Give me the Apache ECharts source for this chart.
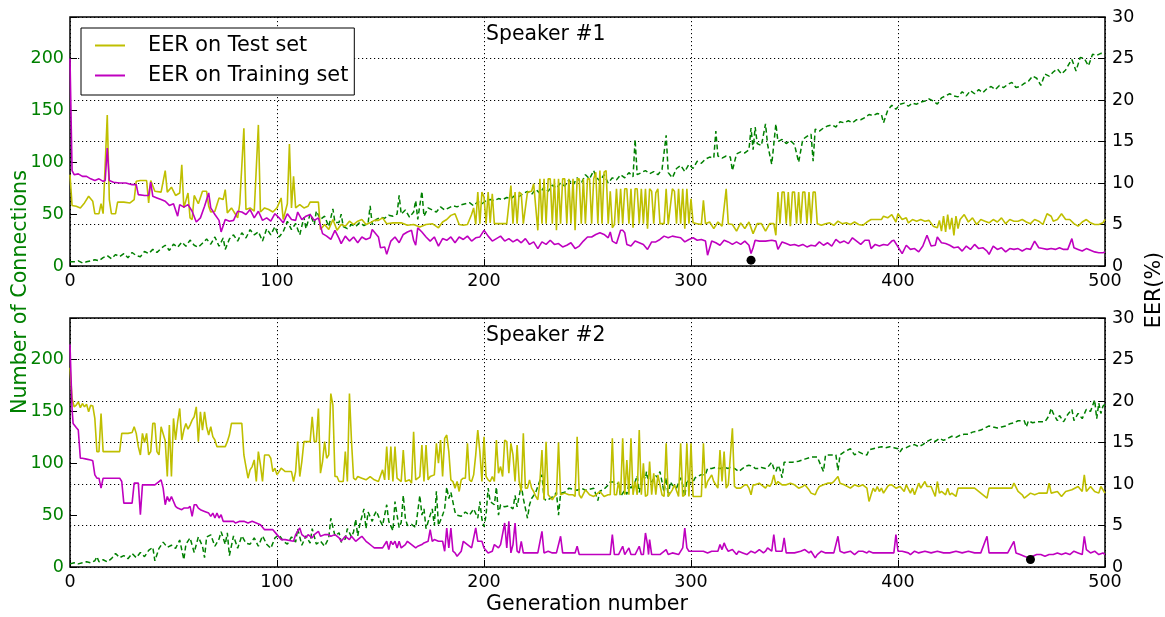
<!DOCTYPE html>
<html><head><meta charset="utf-8">
<script src="https://cdn.jsdelivr.net/npm/echarts@6/dist/echarts.min.js"></script>
<style>html,body{margin:0;padding:0;background:#fff}#c{width:1165px;height:617px}</style>
</head><body><div id="c"></div>
<script>
// ---- axis ticks ----
const xTicks = [0, 100, 200, 300, 400, 500];
const connTicks = [0, 50, 100, 150, 200];
const connMax = 240;
const eerTicks = [0, 5, 10, 15, 20, 25, 30];

// ---- Speaker #1 ----
const test1 = [[0,11.0],[1,7.3],[3,7.2],[5,7.0],[7,7.6],[9,8.4],[11,7.8],[12,6.3],[14,6.3],[15,7.5],[16,6.3],[18,18.2],[19,8.0],[20,6.3],[22,6.3],[23,7.7],[26,7.7],[29,7.6],[31,8.0],[32,10.2],[34,10.3],[37,10.3],[38,7.6],[39,10.3],[41,9.0],[44,8.9],[46,11.5],[47,8.9],[49,9.5],[51,8.5],[53,8.8],[54,12.2],[55,7.0],[57,8.8],[58,5.8],[59,5.6],[60,8.5],[62,7.5],[64,9.0],[66,9.0],[67,7.2],[68,6.5],[70,6.6],[72,8.2],[74,8.0],[75,9.2],[76,6.4],[78,7.0],[80,6.2],[81,5.8],[82,7.5],[84,16.6],[85,6.8],[87,7.0],[89,6.6],[91,17.0],[92,6.5],[94,7.0],[96,6.8],[98,6.5],[100,7.0],[102,8.2],[103,5.6],[105,7.5],[106,14.7],[107,7.0],[108,10.8],[109,7.0],[111,7.4],[113,7.0],[115,7.2],[116,7.7],[120,7.7],[121,4.4],[123,5.0],[125,4.4],[127,5.6],[129,4.3],[131,5.0],[133,4.8],[135,5.4],[137,5.0],[139,5.4],[141,5.6],[143,5.0],[145,5.2],[147,5.5],[149,5.5],[151,5.8],[153,5.1],[156,5.2],[160,5.2],[163,4.9],[166,5.0],[169,4.7],[172,5.0],[175,5.1],[178,4.6],[180,5.3],[182,5.6],[184,6.1],[186,6.3],[188,5.0],[190,4.9],[192,5.0],[194,6.2],[195,7.0],[196,5.0],[197,8.9],[198,5.1],[199,8.9],[200,8.3],[201,5.1],[202,8.9],[203,5.2],[204,8.7],[205,5.1],[207,5.1],[209,5.1],[211,5.1],[213,9.7],[214,5.1],[215,8.9],[216,5.1],[217,8.9],[218,8.7],[219,5.1],[221,8.9],[223,9.0],[224,9.9],[226,4.3],[227,10.5],[228,5.1],[229,10.5],[230,5.1],[231,10.5],[232,10.5],[233,5.1],[234,10.5],[235,4.3],[236,10.5],[237,5.1],[238,10.5],[239,10.5],[240,5.1],[241,10.5],[242,5.1],[243,10.5],[244,4.3],[245,10.5],[246,10.5],[247,5.1],[248,10.5],[249,5.1],[250,10.5],[251,10.5],[252,5.1],[253,10.5],[254,11.3],[255,5.1],[256,11.5],[257,5.1],[258,11.3],[259,11.5],[260,5.1],[261,9.0],[262,4.6],[263,5.0],[264,9.3],[265,5.1],[266,9.3],[267,5.1],[268,9.3],[269,9.3],[270,5.1],[271,9.3],[272,4.6],[273,9.3],[274,9.3],[275,5.1],[276,9.3],[277,5.1],[278,9.3],[279,4.5],[280,9.3],[281,9.0],[282,5.1],[283,8.8],[284,9.3],[285,5.1],[287,5.1],[288,9.3],[289,5.0],[291,9.3],[292,9.0],[293,5.1],[294,9.3],[295,5.1],[296,9.3],[297,4.5],[298,9.3],[299,5.1],[300,8.1],[301,5.2],[303,5.1],[305,5.0],[306,7.9],[307,5.1],[309,5.3],[311,4.5],[313,5.3],[315,4.8],[317,9.3],[318,5.1],[320,5.0],[322,4.2],[324,5.2],[326,4.5],[328,5.3],[330,3.9],[332,5.1],[334,5.1],[336,4.2],[338,5.1],[340,5.1],[341,3.7],[342,8.9],[343,5.1],[344,8.9],[345,8.9],[346,5.1],[347,8.9],[348,4.8],[349,8.9],[350,8.9],[351,5.1],[352,8.9],[353,5.1],[354,8.9],[355,8.9],[356,5.1],[357,8.9],[358,5.1],[359,8.9],[360,8.9],[361,5.1],[363,4.9],[365,5.1],[367,5.2],[369,4.9],[371,5.4],[373,5.1],[375,5.2],[377,5.0],[379,5.3],[381,5.0],[383,4.9],[385,5.3],[387,5.6],[390,5.6],[392,5.6],[393,6.0],[395,5.8],[397,6.2],[399,5.3],[400,6.3],[402,5.6],[404,5.8],[405,5.2],[407,5.6],[409,5.4],[411,5.6],[413,5.4],[415,5.5],[417,4.8],[419,4.6],[420,5.5],[421,4.2],[422,6.0],[423,4.1],[424,6.2],[425,4.4],[426,5.8],[427,3.7],[428,6.0],[429,4.5],[430,5.6],[432,6.2],[434,5.3],[436,5.8],[438,5.0],[440,5.6],[442,5.4],[444,5.2],[446,5.6],[448,5.3],[450,5.8],[452,5.1],[454,5.6],[456,5.4],[458,5.4],[460,5.6],[462,5.3],[464,5.1],[466,5.6],[468,5.4],[470,5.0],[472,6.3],[474,6.0],[475,5.4],[477,5.6],[479,6.3],[481,5.6],[483,5.6],[485,5.1],[487,4.8],[489,5.3],[491,5.6],[493,5.2],[495,5.0],[497,5.0],[499,5.2],[500,5.6]];

const train1 = [[0,25.0],[1,11.5],[2,11.0],[4,11.1],[6,10.8],[8,10.8],[10,10.5],[12,10.3],[14,10.5],[16,10.2],[17,10.3],[18,14.2],[19,10.3],[21,10.1],[24,10.0],[27,10.0],[30,9.8],[32,9.8],[33,8.6],[36,8.5],[38,8.5],[39,10.1],[40,8.4],[42,8.2],[44,8.0],[46,7.8],[48,7.3],[50,7.5],[52,6.0],[53,7.4],[55,7.1],[57,7.4],[59,6.6],[61,5.3],[63,5.8],[65,7.2],[67,8.8],[68,7.0],[70,6.2],[72,5.5],[73,4.1],[75,5.6],[77,5.4],[79,5.5],[81,6.6],[83,6.5],[85,6.2],[87,6.8],[89,5.8],[91,6.6],[93,5.5],[95,5.8],[97,5.4],[99,6.3],[101,5.8],[103,5.2],[105,6.3],[107,5.6],[109,5.5],[110,6.5],[112,5.6],[114,6.0],[116,6.2],[118,5.5],[120,5.8],[122,3.9],[124,3.6],[126,3.2],[128,4.3],[130,3.3],[131,2.7],[133,3.6],[135,3.0],[137,3.5],[139,2.8],[141,3.5],[143,3.2],[145,3.4],[146,4.4],[148,3.8],[149,3.5],[150,2.2],[152,2.3],[153,1.4],[155,3.0],[157,3.5],[159,2.8],[160,3.3],[161,3.8],[163,4.1],[165,4.3],[166,3.1],[167,2.5],[168,4.6],[170,4.1],[172,3.5],[174,3.0],[176,3.5],[178,2.4],[180,3.3],[182,3.1],[184,3.5],[186,2.8],[188,3.5],[190,3.2],[192,3.6],[194,3.0],[196,3.4],[198,3.5],[200,4.3],[202,3.6],[204,3.0],[206,3.3],[208,3.6],[210,3.0],[212,3.3],[214,2.9],[216,3.2],[218,2.8],[220,3.3],[222,2.6],[224,2.9],[226,2.1],[228,2.9],[230,2.6],[232,3.1],[234,2.6],[236,2.7],[238,2.3],[240,2.5],[242,2.8],[244,2.1],[246,2.4],[248,3.0],[250,3.5],[252,3.5],[254,3.8],[256,4.0],[258,3.8],[260,3.4],[261,4.1],[262,3.0],[264,2.7],[266,4.3],[267,4.3],[268,4.0],[269,2.6],[271,2.4],[273,3.0],[275,2.8],[277,2.6],[279,2.0],[281,2.9],[283,2.9],[285,3.2],[287,3.6],[289,3.4],[291,3.6],[293,3.5],[295,3.4],[297,2.9],[299,3.2],[301,3.4],[303,3.1],[305,3.2],[307,3.0],[308,1.3],[310,3.0],[312,2.8],[314,2.5],[316,3.1],[318,2.9],[320,2.6],[322,2.9],[324,2.6],[326,3.0],[328,2.5],[329,1.5],[330,2.2],[331,3.1],[333,3.0],[336,3.0],[339,3.1],[341,3.0],[342,2.0],[344,2.9],[346,2.7],[348,2.5],[350,2.6],[352,2.4],[354,2.6],[356,2.3],[358,2.5],[360,2.4],[362,2.9],[364,2.5],[366,2.8],[368,2.4],[370,3.2],[372,2.8],[374,3.0],[376,2.7],[378,3.4],[380,3.0],[382,2.6],[384,3.1],[386,3.1],[387,2.1],[389,2.6],[391,2.4],[393,2.6],[395,2.5],[397,3.0],[398,3.1],[400,2.3],[402,1.5],[404,2.5],[406,2.0],[408,2.1],[410,1.7],[412,2.4],[414,3.7],[416,2.4],[418,2.5],[419,3.5],[421,2.8],[423,2.7],[425,2.5],[427,2.2],[429,2.3],[431,1.8],[433,2.4],[435,2.0],[437,2.6],[439,2.1],[441,2.2],[443,1.8],[444,1.4],[446,2.4],[448,2.0],[450,2.2],[452,1.7],[454,2.1],[456,2.0],[458,2.1],[460,1.8],[462,2.1],[464,2.0],[466,3.0],[468,2.2],[470,2.1],[472,2.0],[474,2.1],[476,2.0],[478,2.2],[480,2.0],[482,2.0],[484,3.3],[485,2.2],[487,2.0],[489,1.8],[491,2.1],[493,1.9],[495,1.7],[497,1.6],[499,1.6],[500,1.7]];

const conn1 = [[0,4],[2,4],[4,5],[6,3],[8,4],[10,5],[12,6],[14,5],[16,8],[18,10],[20,7],[22,11],[24,9],[26,12],[28,8],[30,13],[32,10],[34,9],[36,14],[38,12],[40,16],[42,13],[44,17],[46,20],[48,15],[50,21],[52,18],[54,23],[56,19],[58,25],[60,20],[62,18],[64,22],[66,26],[68,21],[70,28],[72,19],[74,27],[75,16],[77,26],[79,30],[81,24],[83,32],[85,27],[87,35],[89,30],[91,33],[93,24],[95,36],[97,30],[99,38],[101,28],[103,33],[105,43],[107,35],[109,41],[111,30],[113,47],[114,36],[116,50],[118,40],[119,53],[121,45],[123,48],[125,38],[127,55],[128,42],[130,42],[131,50],[132,38],[134,36],[136,40],[138,38],[140,42],[142,39],[144,41],[145,58],[146,40],[148,45],[150,47],[152,46],[154,49],[156,48],[158,50],[159,68],[160,50],[162,54],[164,47],[166,52],[167,63],[168,45],[170,72],[171,48],[173,56],[175,54],[177,52],[179,57],[181,54],[183,56],[185,58],[187,57],[189,59],[191,60],[193,61],[195,58],[197,62],[199,60],[201,63],[203,64],[205,63],[207,65],[209,64],[211,66],[213,65],[215,68],[217,67],[219,70],[221,72],[223,69],[225,74],[227,70],[229,76],[231,72],[233,78],[235,75],[237,80],[239,77],[241,83],[243,78],[245,85],[247,80],[249,88],[251,84],[253,92],[254,86],[256,82],[258,88],[260,80],[262,85],[264,83],[266,88],[268,85],[270,90],[272,86],[273,122],[274,88],[276,90],[278,92],[280,89],[282,91],[284,88],[286,93],[288,126],[289,90],[291,85],[293,94],[295,97],[297,91],[299,98],[301,94],[303,101],[305,99],[307,103],[309,105],[311,104],[312,130],[313,106],[315,104],[317,106],[319,105],[320,92],[322,108],[324,110],[326,109],[328,112],[329,133],[330,112],[331,134],[332,118],[334,116],[336,137],[337,117],[339,98],[341,137],[342,120],[344,122],[346,118],[348,121],[350,117],[352,100],[354,122],[356,125],[358,127],[359,101],[360,132],[362,130],[364,133],[366,135],[368,136],[370,134],[372,139],[374,138],[376,140],[378,138],[380,141],[382,141],[384,143],[386,146],[388,145],[390,147],[392,146],[393,138],[395,150],[397,155],[399,151],[401,156],[403,157],[405,154],[407,157],[409,156],[411,158],[413,159],[415,161],[417,159],[419,156],[421,162],[423,164],[425,166],[427,164],[429,163],[431,168],[433,164],[435,169],[437,166],[439,170],[441,167],[443,171],[445,173],[447,170],[449,174],[451,172],[453,175],[455,177],[457,172],[459,173],[461,176],[463,178],[465,183],[467,181],[469,174],[471,185],[473,183],[475,187],[477,190],[479,185],[481,189],[483,196],[484,199],[486,188],[488,201],[490,200],[492,193],[494,204],[496,203],[498,205],[500,204]];

const best1 = [[329, 0.7]];

// ---- Speaker #2 ----
const test2 = [[0,24.0],[1,20.3],[2,19.3],[3,19.5],[4,19.9],[5,19.2],[6,19.7],[7,19.3],[8,19.6],[9,18.7],[10,19.5],[11,19.4],[12,17.9],[13,13.9],[14,13.9],[15,18.5],[16,13.9],[18,13.9],[20,13.9],[22,13.9],[24,13.9],[25,16.1],[28,16.1],[30,16.2],[31,16.9],[32,16.1],[33,14.5],[34,13.5],[35,16.1],[36,15.0],[37,16.1],[38,13.5],[39,13.9],[40,17.3],[41,17.3],[42,13.9],[43,13.5],[44,16.9],[46,15.2],[47,10.9],[48,17.1],[49,10.9],[50,17.9],[51,15.3],[52,17.5],[53,19.1],[54,15.3],[55,16.5],[56,17.3],[57,16.6],[58,17.1],[59,17.7],[60,18.1],[61,19.3],[62,15.1],[63,18.7],[64,16.5],[65,18.7],[66,16.9],[67,15.9],[68,16.9],[69,15.7],[70,15.3],[71,14.5],[73,14.5],[75,14.5],[76,15.1],[77,15.9],[78,17.3],[80,17.3],[82,17.3],[83,17.3],[84,13.5],[85,12.1],[86,10.7],[87,11.7],[88,12.1],[89,12.9],[90,10.3],[91,13.9],[92,12.3],[93,10.3],[94,13.5],[96,13.5],[97,13.1],[98,11.5],[99,11.9],[100,11.1],[101,11.5],[102,11.9],[104,11.5],[106,11.5],[107,11.5],[108,10.3],[109,11.5],[110,15.1],[111,10.9],[112,12.7],[113,15.1],[114,15.1],[116,15.1],[117,18.1],[118,15.1],[119,15.1],[120,19.1],[121,11.3],[122,12.7],[123,15.1],[124,13.1],[125,13.5],[126,20.9],[127,19.5],[128,10.9],[129,10.9],[130,10.3],[131,10.3],[132,10.3],[133,13.9],[134,10.3],[135,20.9],[136,15.1],[137,10.7],[138,10.5],[139,10.9],[141,10.7],[143,10.5],[145,10.9],[147,10.5],[149,10.3],[151,11.7],[152,10.5],[153,14.5],[154,10.5],[155,14.5],[156,10.3],[157,14.5],[158,10.7],[160,10.3],[161,14.1],[162,10.3],[164,10.5],[165,10.1],[166,16.3],[167,10.5],[169,10.9],[170,14.7],[171,10.3],[172,14.7],[173,10.5],[174,10.9],[176,11.1],[177,14.9],[178,12.5],[179,15.3],[180,10.9],[181,15.5],[182,15.9],[183,13.9],[184,10.5],[185,10.3],[186,9.5],[187,10.3],[188,9.1],[189,10.5],[190,10.7],[191,10.7],[192,14.9],[193,10.5],[194,10.3],[195,11.1],[196,13.5],[196.5,15.1],[197,16.5],[198,13.9],[199,10.3],[200,15.7],[201,10.9],[202,10.5],[203,10.3],[204,10.9],[205,10.3],[206,15.3],[207,11.3],[208,12.1],[209,10.9],[210,15.3],[211,15.1],[212,11.3],[213,14.9],[214,13.5],[215,10.3],[216,14.7],[217,10.3],[218,9.1],[219,16.1],[220,9.5],[221,9.5],[222,10.5],[223,9.5],[224,9.1],[225,8.5],[226,8.1],[227,10.3],[228,14.1],[229,8.1],[230,15.1],[231,8.7],[233,8.1],[234,8.5],[235,8.7],[236,15.0],[237,8.7],[239,8.9],[241,8.7],[243,8.7],[244,8.5],[245,15.7],[246,8.7],[247,8.3],[249,9.3],[251,8.7],[253,8.5],[254,8.7],[256,9.1],[258,8.5],[260,8.7],[261,8.7],[262,15.5],[263,8.7],[264,8.7],[265,10.3],[266,8.7],[267,15.5],[268,8.7],[269,12.9],[270,8.7],[271,15.5],[272,8.7],[273,10.3],[274,8.7],[275,16.5],[276,8.7],[277,12.5],[278,8.5],[279,8.7],[280,12.7],[281,8.7],[282,11.3],[283,8.7],[284,11.1],[285,9.9],[286,8.7],[287,8.5],[288,14.9],[289,8.5],[291,9.3],[292,9.9],[294,8.5],[295,14.9],[296,8.5],[297,8.7],[298,14.9],[299,8.5],[300,14.9],[301,8.5],[303,8.5],[305,8.5],[306,14.9],[307,9.5],[308,10.3],[310,11.1],[311,10.3],[313,9.5],[314,14.1],[315,10.3],[316,13.9],[317,9.5],[318,9.9],[320,16.7],[321,9.7],[322,9.5],[324,9.5],[326,9.9],[327,9.9],[328,9.5],[329,8.7],[330,9.9],[331,9.9],[333,10.1],[334,9.9],[336,9.5],[337,9.9],[338,9.7],[339,10.1],[340,11.1],[341,9.9],[342,10.3],[344,9.9],[346,9.9],[348,10.1],[350,9.9],[352,9.5],[354,9.7],[355,9.9],[357,9.3],[358,8.9],[360,8.7],[361,9.3],[362,9.7],[364,9.9],[366,10.1],[368,10.1],[369,10.3],[371,10.9],[372,10.1],[374,9.9],[377,9.5],[379,9.9],[381,9.7],[383,9.9],[385,9.5],[386,7.9],[387,8.7],[388,9.5],[389,9.1],[390,9.7],[391,9.1],[392,9.5],[393,8.9],[395,9.7],[396,9.9],[397,9.9],[399,9.5],[401,9.7],[403,9.1],[404,9.9],[406,8.9],[407,9.5],[408,8.7],[410,10.1],[411,9.5],[412,9.9],[413,10.3],[414,9.7],[416,9.7],[418,8.5],[419,10.3],[420,8.9],[421,9.1],[423,8.7],[424,9.5],[425,8.7],[426,8.9],[428,8.5],[429,9.5],[431,9.5],[433,9.5],[435,9.5],[437,9.5],[443,8.3],[444,9.5],[447,9.5],[450,9.5],[455,9.5],[456,10.1],[458,9.1],[460,8.7],[461,8.3],[463,8.7],[464,8.9],[466,8.7],[468,8.9],[470,8.9],[472,8.9],[473,10.1],[474,8.9],[477,9.1],[479,8.5],[481,9.1],[484,9.3],[487,9.7],[489,9.1],[490,11.1],[491,9.1],[493,9.7],[495,9.1],[497,8.9],[498,9.7],[500,8.9]];

const train2 = [[0,26.8],[1,19.0],[1.5,17.3],[2,17.1],[3,16.8],[4,16.5],[5,13.1],[6,13.1],[8,13.0],[10,12.9],[11,12.8],[12,11.1],[13,10.7],[14,10.7],[15,9.5],[16,10.7],[18,10.7],[20,10.7],[22,10.7],[24,10.7],[25,10.3],[26,7.7],[28,7.7],[30,7.7],[31,10.1],[32,10.1],[33,10.1],[34,6.3],[35,9.9],[37,9.9],[39,9.9],[41,9.9],[43,10.3],[44,10.5],[45,9.5],[46,7.5],[47,8.5],[48,7.9],[49,8.5],[51,7.3],[52,7.1],[54,6.9],[55,7.1],[57,7.1],[58,7.3],[59,6.1],[60,7.5],[61,7.5],[62,7.1],[63,6.9],[65,6.7],[67,6.5],[68,6.1],[69,6.5],[70,5.9],[71,6.5],[72,5.9],[73,6.3],[74,5.5],[77,5.5],[79,5.5],[80,5.3],[82,5.5],[84,5.5],[86,5.3],[88,5.5],[90,5.3],[92,5.1],[94,4.5],[96,4.5],[98,4.5],[100,3.9],[102,3.3],[104,3.3],[106,3.2],[108,3.1],[109,3.9],[111,4.7],[112,3.9],[114,3.5],[115,3.9],[117,3.5],[118,3.9],[120,4.3],[121,3.7],[123,3.9],[125,3.9],[126,3.7],[128,3.9],[130,3.5],[131,3.1],[133,3.7],[135,3.3],[136,3.7],[138,3.1],[140,3.5],[141,3.7],[143,3.1],[144,2.9],[146,2.5],[147,2.3],[149,2.3],[151,2.3],[153,3.1],[154,2.1],[155,3.1],[156,2.7],[157,3.1],[158,2.3],[159,3.1],[160,2.3],[160.5,2.5],[162,2.7],[163,3.1],[165,2.7],[167,2.3],[168,2.5],[170,2.7],[171,2.9],[173,3.1],[174,4.5],[175,3.1],[176,3.3],[178,3.1],[180,3.1],[181,1.9],[182,4.7],[183,2.3],[184,4.7],[185,1.9],[186,1.7],[187,1.3],[189,1.9],[190,3.1],[192,2.7],[194,2.3],[196,4.7],[197,3.1],[199,3.1],[200,2.3],[202,1.7],[204,1.9],[205,2.7],[207,2.3],[208,2.7],[210,5.3],[211,2.3],[212,5.5],[213,1.7],[214,2.7],[215,5.3],[216,1.9],[217,1.7],[218,3.1],[219,1.7],[220,1.7],[222,1.7],[224,1.7],[226,1.7],[228,4.3],[229,1.7],[231,1.9],[233,1.7],[235,1.7],[237,3.7],[238,1.7],[240,1.7],[242,1.7],[244,1.7],[245,2.5],[246,1.5],[248,1.5],[250,1.5],[252,1.5],[254,1.5],[256,1.5],[258,1.5],[260,1.5],[261,1.5],[262,3.9],[263,1.5],[265,1.5],[267,2.5],[268,1.5],[270,2.3],[271,1.5],[273,1.5],[275,2.5],[276,1.5],[277,1.5],[278,4.1],[279,2.7],[279.5,1.5],[280,3.3],[281,1.5],[283,1.5],[285,1.5],[288,2.1],[289,1.5],[291,1.7],[294,1.5],[296,2.3],[297,4.7],[298,2.3],[299,1.9],[301,1.9],[304,1.9],[306,1.9],[308,1.7],[310,1.9],[313,1.9],[314,2.7],[315,2.1],[316,2.9],[317,2.3],[318,1.9],[320,2.1],[322,1.5],[323,1.9],[325,1.7],[327,1.5],[328,1.7],[329,1.9],[331,1.7],[333,2.1],[335,1.7],[336,1.9],[337,2.3],[339,1.9],[340,3.9],[341,1.9],[342,1.9],[344,1.9],[345,3.5],[346,1.7],[348,1.7],[350,1.7],[353,1.9],[355,2.1],[357,1.7],[358,1.9],[360,1.1],[361,1.5],[363,1.9],[365,1.7],[367,1.7],[369,1.7],[371,3.7],[372,1.9],[374,1.7],[377,1.9],[379,1.5],[381,1.9],[383,1.9],[385,1.7],[386,1.9],[388,1.7],[390,1.7],[393,1.7],[396,1.7],[398,1.7],[399,3.9],[400,1.9],[402,1.9],[405,1.7],[406,1.5],[408,1.9],[410,1.7],[413,1.9],[416,1.7],[419,1.9],[422,1.7],[425,1.7],[428,1.9],[431,1.7],[434,1.9],[437,1.7],[440,1.7],[443,3.7],[444,1.7],[447,1.7],[450,1.7],[453,1.7],[456,3.1],[457,1.7],[459,1.5],[461,1.3],[463,1.1],[464,1.0],[465,1.3],[467,1.5],[469,1.5],[471,1.3],[473,1.5],[475,1.5],[477,1.7],[479,1.5],[481,1.7],[483,1.5],[485,1.9],[487,1.7],[489,1.5],[490,3.7],[491,2.1],[493,1.7],[495,1.9],[497,1.5],[499,1.7],[500,1.5]];

const conn2 = [[0,3],[2,4],[4,3],[6,4],[8,5],[10,4],[12,6],[13,10],[14,5],[16,7],[18,5],[20,8],[22,13],[24,9],[26,11],[28,8],[30,13],[32,9],[34,14],[36,10],[38,16],[40,19],[41,6],[43,18],[45,24],[47,19],[49,21],[51,18],[53,26],[55,7],[56,22],[58,28],[60,14],[62,29],[64,20],[65,9],[66,29],[68,31],[70,20],[72,27],[73,34],[75,22],[76,33],[77,11],[79,30],[81,18],[83,30],[85,23],[87,22],[89,28],[91,20],[93,30],[95,22],[97,18],[99,28],[101,31],[103,25],[105,22],[107,29],[109,24],[110,37],[112,21],[114,30],[116,23],[117,37],[119,22],[121,25],[123,20],[125,28],[126,47],[128,30],[130,33],[131,24],[133,27],[134,37],[136,29],[137,34],[138,46],[139,30],[140,41],[142,56],[143,37],[144,53],[146,44],[147,50],[148,54],[150,44],[151,40],[153,60],[154,44],[156,35],[157,63],[158,50],[159,38],[160,43],[161,69],[162,47],[163,40],[165,41],[167,38],[169,69],[170,50],[171,56],[172,37],[174,50],[175,56],[176,40],[177,73],[178,40],[180,50],[181,56],[182,77],[183,66],[184,72],[186,53],[187,50],[189,49],[191,53],[193,50],[195,56],[197,47],[198,63],[199,46],[200,39],[201,50],[202,76],[203,63],[205,60],[206,77],[207,50],[208,60],[210,58],[212,59],[214,56],[215,69],[216,58],[218,79],[219,66],[221,47],[222,60],[223,66],[225,72],[228,89],[229,66],[230,64],[232,66],[234,69],[235,72],[236,50],[237,71],[239,72],[241,76],[243,75],[245,74],[247,76],[249,74],[251,75],[253,76],[255,64],[256,73],[258,75],[260,79],[261,82],[263,82],[265,80],[266,68],[268,74],[269,70],[270,80],[271,76],[273,82],[274,88],[275,72],[276,82],[277,88],[278,85],[278.5,92],[279,86],[281,82],[283,88],[284,86],[285,92],[287,72],[288,86],[289,68],[290,82],[291,79],[293,76],[295,86],[296,79],[297,68],[298,84],[299,81],[301,82],[302,86],[304,88],[305,89],[307,89],[308,95],[310,95],[312,96],[314,95],[316,96],[318,95],[319,96],[321,95],[323,92],[325,95],[326,97],[328,98],[330,97],[331,95],[333,95],[334,96],[336,95],[337,96],[339,101],[340,95],[341,92],[342,98],[343,94],[344,86],[345,101],[347,101],[349,101],[352,102],[355,104],[358,106],[361,106],[364,92],[365,108],[368,108],[370,108],[371,93],[372,108],[374,111],[377,114],[379,108],[381,111],[383,109],[385,108],[386,113],[388,114],[390,115],[392,116],[394,115],[396,116],[398,115],[400,114],[401,111],[402,114],[404,115],[406,117],[408,118],[410,116],[412,118],[414,121],[416,123],[418,121],[420,124],[422,122],[424,124],[426,126],[428,125],[430,127],[432,128],[434,128],[436,130],[438,131],[440,132],[442,134],[444,136],[446,135],[448,134],[450,135],[452,136],[454,138],[456,139],[458,141],[461,141],[462,135],[463,141],[465,139],[467,140],[469,140],[471,140],[473,146],[474,153],[475,148],[477,141],[478,146],[480,140],[482,147],[484,152],[485,141],[487,148],[489,143],[491,152],[493,150],[495,161],[496,143],[497,158],[498,148],[499,155],[500,157]];

const best2 = [[464, 0.9]];

// ---- labels ----
const titles = ['Speaker #1', 'Speaker #2'];
const legendNames = ['EER on Test set', 'EER on Training set'];
const xName = 'Generation number';
const yLeftName = 'Number of Connections';
const yRightName = 'EER(%)';

// ---- styling ----
const FONT = 'DejaVu Sans';
const GREEN = '#008000', YEL = '#bfbf00', MAG = '#bf00bf';
const dotted = { color: '#000', width: 1, type: [1.2, 2.8] };
const grids = [
  { left: 70, top: 17, width: 1035, height: 249 },
  { left: 70, top: 318, width: 1035, height: 249 }
];

function xAx(i) {
  return {
    type: 'value', gridIndex: i,
    min: xTicks[0], max: xTicks[xTicks.length - 1], interval: xTicks[1] - xTicks[0],
    axisLine: { show: false },
    axisTick: { show: true, inside: true, length: 7, lineStyle: { color: '#000', width: 1 } },
    axisLabel: { color: '#000', fontFamily: FONT, fontSize: 17.5, margin: 6 },
    splitLine: { show: true, lineStyle: dotted }
  };
}
function yLeft(i) {
  return {
    type: 'value', gridIndex: i, position: 'left',
    min: connTicks[0], max: connMax, interval: connTicks[1] - connTicks[0],
    axisLine: { show: false },
    axisTick: { show: true, inside: true, length: 7, lineStyle: { color: '#000', width: 1 } },
    axisLabel: { color: GREEN, fontFamily: FONT, fontSize: 17.5, margin: 6,
      formatter: v => connTicks.indexOf(v) >= 0 ? String(v) : '' },
    splitLine: { show: false }
  };
}
function yRight(i) {
  return {
    type: 'value', gridIndex: i, position: 'right',
    min: eerTicks[0], max: eerTicks[eerTicks.length - 1], interval: eerTicks[1] - eerTicks[0],
    axisLine: { show: false },
    axisTick: { show: true, inside: true, length: 7, lineStyle: { color: '#000', width: 1 } },
    axisLabel: { color: '#000', fontFamily: FONT, fontSize: 17.5, margin: 7 },
    splitLine: { show: true, lineStyle: dotted }
  };
}
function line(name, data, xi, yi, color, dashed) {
  return {
    type: 'line', name, data, xAxisIndex: xi, yAxisIndex: yi,
    symbol: 'none', showSymbol: false, animation: false,
    lineStyle: { color, width: dashed ? 1.5 : 1.6, type: dashed ? [5, 3] : 'solid' },
    itemStyle: { color }, z: dashed ? 2 : 3
  };
}
function dot(data, xi, yi) {
  return { type: 'scatter', data, xAxisIndex: xi, yAxisIndex: yi, symbolSize: 9,
    itemStyle: { color: '#000', opacity: 1 }, z: 5, animation: false };
}

const chart = echarts.init(document.getElementById('c'), null, { renderer: 'canvas' });
chart.setOption({
  animation: false,
  backgroundColor: '#fff',
  textStyle: { fontFamily: FONT },
  grid: grids.map(g => Object.assign({ show: true, borderColor: '#000', borderWidth: 1.5, backgroundColor: 'transparent' }, g)),
  xAxis: [xAx(0), xAx(1)],
  yAxis: [yLeft(0), yRight(0), yLeft(1), yRight(1)],
  legend: {
    data: legendNames, orient: 'vertical', left: 81, top: 28,
    padding: [7, 6, 9, 14], itemGap: 9, itemWidth: 30, itemHeight: 2, icon: 'rect',
    borderColor: '#000', borderWidth: 1, backgroundColor: '#fff', selectedMode: false,
    textStyle: { fontFamily: FONT, fontSize: 20.8, color: '#000', padding: [0, 0, 0, 18] }
  },
  series: [
    line('Connections #1', conn1, 0, 0, GREEN, true),
    line(legendNames[0], test1, 0, 1, YEL, false),
    line(legendNames[1], train1, 0, 1, MAG, false),
    dot(best1, 0, 1),
    line('Connections #2', conn2, 1, 2, GREEN, true),
    line(legendNames[0], test2, 1, 3, YEL, false),
    line(legendNames[1], train2, 1, 3, MAG, false),
    dot(best2, 1, 3)
  ],
  graphic: [
    { type: 'text', left: 486, top: 25, style: { text: titles[0], font: '20.4px "DejaVu Sans"', fill: '#000' } },
    { type: 'text', left: 486, top: 326, style: { text: titles[1], font: '20.4px "DejaVu Sans"', fill: '#000' } },
    { type: 'text', x: 587, y: 594, style: { text: xName, font: '20.6px "DejaVu Sans"', fill: '#000', align: 'center', verticalAlign: 'top' } },
    { type: 'text', x: 21, y: 292, rotation: Math.PI / 2, style: { text: yLeftName, font: '20.7px "DejaVu Sans"', fill: GREEN, align: 'center', verticalAlign: 'middle' } },
    { type: 'text', x: 1155, y: 290, rotation: Math.PI / 2, style: { text: yRightName, font: '20.7px "DejaVu Sans"', fill: '#000', align: 'center', verticalAlign: 'middle' } }
  ]
});
</script>
</body></html>
